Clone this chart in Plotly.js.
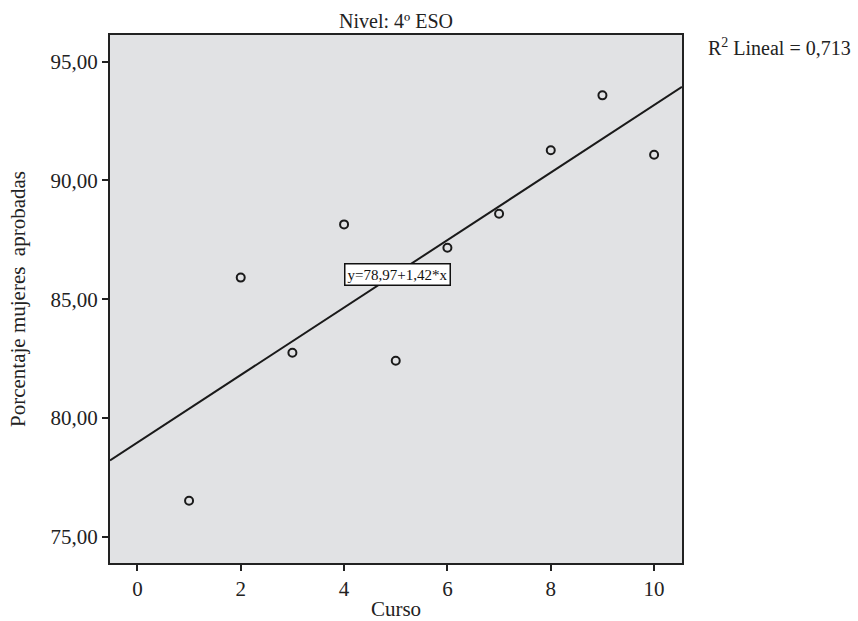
<!DOCTYPE html>
<html>
<head>
<meta charset="utf-8">
<script src="https://cdn.plot.ly/plotly-3.0.1.min.js"></script>
<style>html,body{margin:0;padding:0;background:#fff;}#chart{width:858px;height:621px;}</style>
</head>
<body>
<div id="chart"></div>
<script>
const curso = [1, 2, 3, 4, 5, 6, 7, 8, 9, 10];
const porcentaje = [76.52, 85.91, 82.75, 88.15, 82.41, 87.17, 88.6, 91.27, 93.58, 91.08];
const intercept = 78.97;
const slope = 1.42;
const r2Text = "R<sup>2</sup> Lineal = 0,713";
const eqText = "y=78,97+1,42*x";
const xRange = [-0.53, 10.54];
const yRange = [73.9, 96.12];

const lineX = xRange.slice();
const lineY = lineX.map(x => intercept + slope * x);

const font = "Liberation Serif, Times New Roman, serif";
const ink = '#222';

const traces = [
  {
    x: lineX, y: lineY, mode: 'lines', type: 'scatter',
    line: {color: '#1a1a1a', width: 2}, hoverinfo: 'skip', showlegend: false
  },
  {
    x: curso, y: porcentaje, mode: 'markers', type: 'scatter',
    marker: {symbol: 'circle-open', size: 8, color: '#1a1a1a', line: {width: 2, color: '#1a1a1a'}},
    showlegend: false
  }
];

const layout = {
  width: 858, height: 621,
  margin: {l: 110, r: 176, t: 35, b: 58},
  paper_bgcolor: '#ffffff',
  plot_bgcolor: '#e1e2e4',
  separators: ',.',
  font: {family: font, color: ink, size: 20},
  title: {text: 'Nivel: 4º ESO', font: {family: font, size: 20, color: ink}, x: 0.5 * (110 + 682) / 858, xanchor: 'center', y: 1 - 21 / 621, yanchor: 'middle'},
  xaxis: {
    range: xRange, tickvals: [0, 2, 4, 6, 8, 10], ticks: 'outside', ticklen: 6, tickwidth: 2, tickcolor: ink,
    showgrid: false, zeroline: false, showline: true, linecolor: ink, linewidth: 2, mirror: true,
    tickfont: {family: font, size: 21, color: ink},
    title: {text: 'Curso', font: {family: font, size: 21, color: ink}, standoff: 10}
  },
  yaxis: {
    range: yRange, tickvals: [75, 80, 85, 90, 95], tickformat: '.2f', ticks: 'outside', ticklen: 6, tickwidth: 2, tickcolor: ink,
    showgrid: false, zeroline: false, showline: true, linecolor: ink, linewidth: 2, mirror: true,
    tickfont: {family: font, size: 21, color: ink},
    title: {text: 'Porcentaje mujeres  aprobadas', font: {family: font, size: 21, color: ink}, standoff: 19}
  },
  annotations: [
    {
      x: 5.03, y: 86.03, xref: 'x', yref: 'y', text: eqText, showarrow: false,
      font: {family: font, size: 15, color: '#111'}, bgcolor: '#ffffff', bordercolor: '#111', borderwidth: 1.5, borderpad: 2
    },
    {
      x: (706 - 110) / 572, y: (563 - 47) / 528, xref: 'paper', yref: 'paper', xanchor: 'left', yanchor: 'middle',
      text: r2Text, showarrow: false, font: {family: font, size: 20, color: ink}
    }
  ]
};

Plotly.newPlot('chart', traces, layout, {displayModeBar: false, staticPlot: true});
</script>
</body>
</html>
